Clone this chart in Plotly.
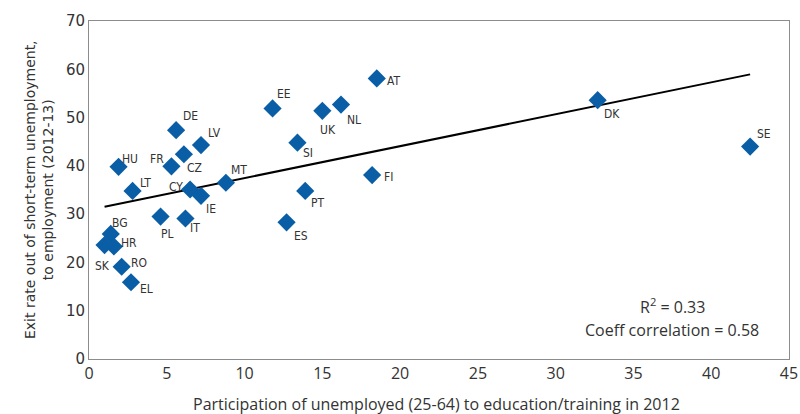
import numpy as np
import plotly.graph_objects as go

countries = ["HU", "LT", "BG", "HR", "SK", "RO", "EL", "PL", "IT", "CY", "IE", "MT", "FR",
             "CZ", "LV", "DE", "EE", "UK", "NL", "AT", "SI", "FI", "PT", "ES", "DK", "SE"]
participation = [1.9, 2.8, 1.4, 1.6, 1.0, 2.1, 2.7, 4.6, 6.2, 6.5, 7.2, 8.8, 5.3,
                 6.1, 7.2, 5.6, 11.8, 15.0, 16.2, 18.5, 13.4, 18.2, 13.9, 12.7, 32.7, 42.5]
exit_rate = [39.8, 34.8, 25.9, 23.3, 23.6, 19.1, 15.9, 29.5, 29.1, 35.1, 33.8, 36.5, 39.9,
             42.4, 44.3, 47.4, 51.9, 51.4, 52.7, 58.1, 44.8, 38.1, 34.8, 28.3, 53.6, 44.0]

x_ticks = [0, 5, 10, 15, 20, 25, 30, 35, 40, 45]
y_ticks = [0, 10, 20, 30, 40, 50, 60, 70]

# label offsets in pixels (dx right, dy down)
label_offsets = {
    "HU": (11, -8), "LT": (13, -8), "BG": (9, -11), "HR": (15, -3), "SK": (-2, 21),
    "RO": (17, -4), "EL": (15, 7), "PL": (7, 17), "IT": (10, 10), "CY": (-14, -3),
    "IE": (10, 13), "MT": (13, -13), "FR": (-14, -7), "CZ": (11, 14), "LV": (13, -12),
    "DE": (14, -14), "EE": (11, -14), "UK": (6, 19), "NL": (13, 15), "AT": (17, 3),
    "SI": (11, 10), "FI": (16, 2), "PT": (13, 12), "ES": (14, 14), "DK": (14, 14),
    "SE": (14, -13),
}

x = np.array(participation)
y = np.array(exit_rate)
slope, intercept = np.polyfit(x, y, 1)
line_x = np.array([x.min(), x.max()])
line_y = slope * line_x + intercept

fig = go.Figure()
fig.add_trace(go.Scatter(
    x=line_x, y=line_y, mode="lines",
    line=dict(color="#000000", width=2), hoverinfo="skip", showlegend=False,
))
fig.add_trace(go.Scatter(
    x=participation, y=exit_rate, mode="markers",
    marker=dict(symbol="diamond", size=14, color="#0A5EA6", line=dict(width=0)),
    text=countries, showlegend=False,
))

label_font = dict(family="DejaVu Sans Condensed, Liberation Sans Narrow, Roboto", size=12, color="#333333")
annotations = []
for c, xv, yv in zip(countries, participation, exit_rate):
    dx, dy = label_offsets[c]
    annotations.append(dict(
        x=xv, y=yv, xref="x", yref="y", text=c, showarrow=False,
        xshift=dx, yshift=-dy, font=label_font, xanchor="center", yanchor="middle",
    ))

annotations += [
    dict(text="Exit rate out of short-term unemployment,<br>to employment (2012-13)",
         x=-0.0714, y=0.5, xref="paper", yref="paper", showarrow=False, textangle=-90,
         font=dict(family="DejaVu Sans", size=14, color="#333333"),
         xanchor="center", yanchor="middle"),
    dict(text="Participation of unemployed (25-64) to education/training in 2012",
         x=0.497, y=-0.133, xref="paper", yref="paper", showarrow=False,
         font=dict(family="Open Sans", size=16, color="#333333"),
         xanchor="center", yanchor="middle"),
    dict(text="R<sup>2</sup> = 0.33", x=0.833, y=0.157, xref="paper", yref="paper",
         showarrow=False, font=dict(family="Open Sans", size=16, color="#333333"),
         xanchor="center", yanchor="middle"),
    dict(text="Coeff correlation = 0.58", x=0.833, y=0.086, xref="paper", yref="paper",
         showarrow=False, font=dict(family="Open Sans", size=16, color="#333333"),
         xanchor="center", yanchor="middle"),
]

fig.update_layout(
    width=800, height=414,
    margin=dict(l=89, r=11, t=21, b=55, autoexpand=False),
    plot_bgcolor="white", paper_bgcolor="white",
    annotations=annotations,
    xaxis=dict(range=[0, 45], tickvals=x_ticks, showgrid=False, zeroline=False,
               showline=True, mirror=True, linecolor="#8c8c8c", linewidth=1,
               ticks="", ticklen=0, automargin=False,
               tickfont=dict(family="Open Sans", size=16, color="#333333")),
    yaxis=dict(range=[0, 70], tickvals=y_ticks, showgrid=False, zeroline=False,
               showline=True, mirror=True, linecolor="#8c8c8c", linewidth=1,
               ticks="", ticklen=0, automargin=False,
               tickfont=dict(family="DejaVu Sans", size=15, color="#333333")),
)

fig.write_html("out.html", config={"displayModeBar": False},
               post_script="document.body.style.margin='0';document.body.style.overflow='hidden';")
